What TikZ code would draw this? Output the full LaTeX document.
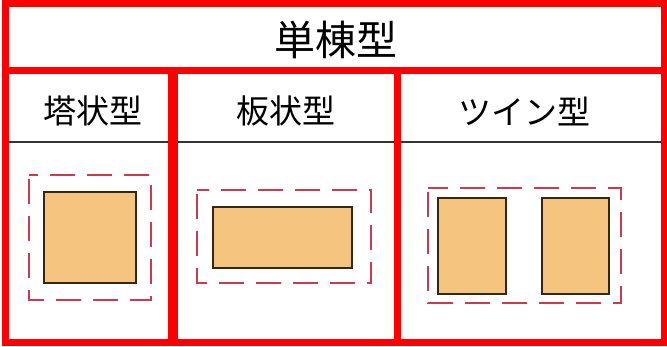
\documentclass[tikz,border=0pt]{standalone}
\usepackage{fontspec}
\setmainfont{Noto Sans CJK JP}
\definecolor{bldgfill}{RGB}{245,196,126}
\definecolor{bldgline}{RGB}{52,38,24}
\definecolor{sitered}{RGB}{204,58,80}
\begin{document}
\begin{tikzpicture}[x=1pt,y=-1pt, line join=miter,
	frame/.style={draw=red, line width=7pt},
	bldg/.style={draw=bldgline, fill=bldgfill, line width=1.6pt},
	site/.style={draw=sitered, line width=1.8pt, dash pattern=on 25pt off 12pt, dash phase=-4pt},
	head/.style={font=\fontsize{33}{33}\selectfont, inner sep=0pt}]
	\useasboundingbox (0,0) rectangle (667,347);
	\def\ytop{4} \def\ymid{71} \def\yrule{142} \def\ybot{343}
	% header rule
	\draw[line width=2.2pt, draw=black!80] (8,\yrule)--(661,\yrule);
	% sites and buildings
	\draw[site] (29,175) rectangle (151,300);
	\draw[bldg] (44,192) rectangle (136,283);
	\draw[site] (197,190) rectangle (371,283);
	\draw[bldg] (213,207) rectangle (352,268);
	\draw[site] (428,188) rectangle (621,303);
	\foreach \xa/\xb in {438/506,542/609}
	{\draw[bldg] (\xa,198) rectangle (\xb,294);}
	% red frames
	\draw[frame] (5,\ytop) rectangle (664,\ymid);
	\draw[frame] (5,\ymid) rectangle (171,\ybot);
	\draw[frame] (174,\ymid) rectangle (397.5,\ybot);
	\draw[frame] (397.5,\ymid) rectangle (664,\ybot);
	% labels
	\node[head, font=\fontsize{41}{41}\selectfont] (title) at (336,40) {単棟型};
	\node[head] (tower) at (93,111) {塔状型};
	\node[head] (slab) at (286,111) {板状型};
	\node[head] (twin) at (524,111) {ツイン型};
\end{tikzpicture}
\end{document}
